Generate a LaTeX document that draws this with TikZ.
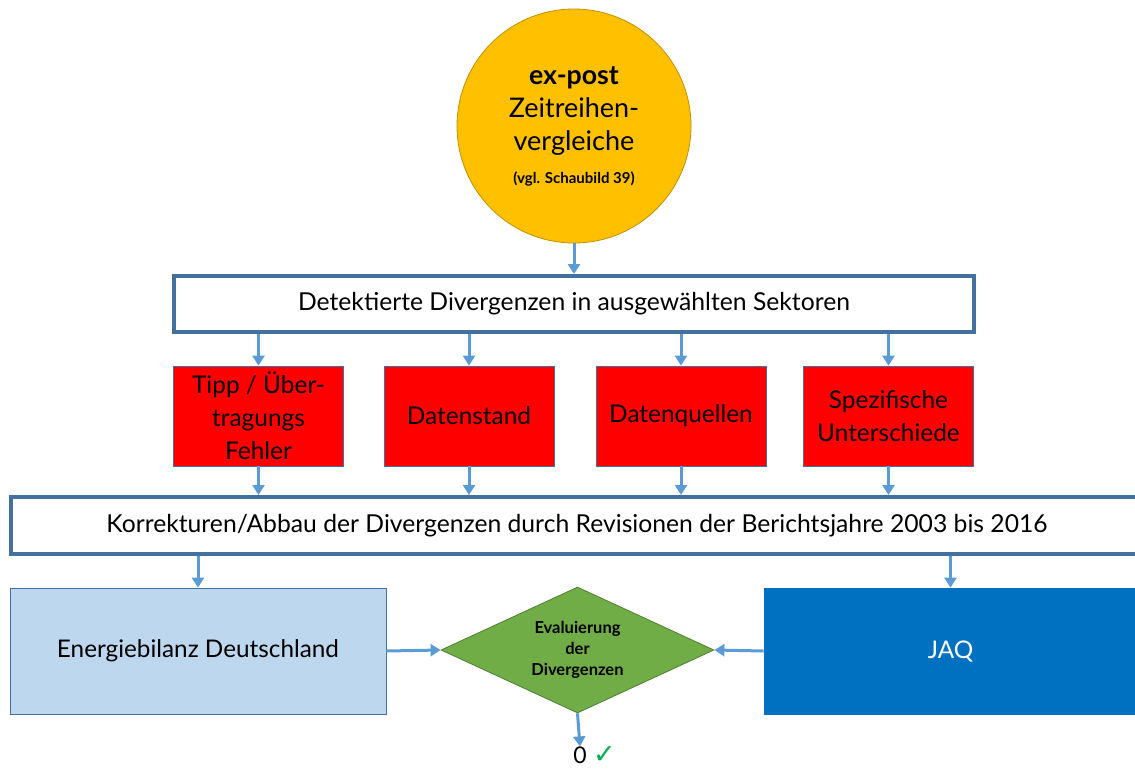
\documentclass[tikz,border=0pt]{standalone}
\usepackage{fontspec}
\setmainfont{Lato}
\newfontfamily\symfont{DejaVu Sans}
\usetikzlibrary{arrows.meta,shapes.geometric}

\definecolor{framecol}{HTML}{41719C}
\definecolor{arrowcol}{HTML}{5B9BD5}
\definecolor{sunfill}{HTML}{FFC000}
\definecolor{sunline}{HTML}{BF9000}
\definecolor{redfill}{HTML}{FF0000}
\definecolor{lightfill}{HTML}{BDD7EE}
\definecolor{darkfill}{HTML}{0070C0}
\definecolor{greenfill}{HTML}{70AD47}
\definecolor{greenline}{HTML}{507E32}
\definecolor{tickcol}{HTML}{00B050}

\tikzset{
  arr/.style={draw=arrowcol, line width=3pt, -{Triangle[width=12pt,length=10pt]}},
  sourcecircle/.style={circle, fill=sunfill, draw=sunline, line width=0.8pt,
    minimum size=234pt, inner sep=0pt, align=center,
    font=\fontsize{27}{33}\selectfont},
  widebox/.style={rectangle, draw=framecol, line width=4pt, fill=white,
    inner sep=0pt, font=\fontsize{24.7}{30}\selectfont},
  causebox/.style={rectangle, draw=framecol, line width=0.8pt, fill=redfill,
    minimum width=170pt, minimum height=100pt, inner sep=0pt, align=center,
    font=\fontsize{24.4}{33}\selectfont},
  sourcebox/.style={rectangle, draw=framecol, line width=0.8pt,
    minimum width=376pt, minimum height=126pt, inner sep=0pt,
    font=\fontsize{24.3}{30}\selectfont},
  decision/.style={diamond, aspect=2.17, fill=greenfill, draw=greenline,
    line width=0.8pt, minimum width=273pt, minimum height=126pt, inner sep=0pt,
    align=center, font=\fontsize{16.5}{21}\selectfont\bfseries}
}

\begin{document}
\begin{tikzpicture}[x=1pt,y=-1pt]
\useasboundingbox (0,0) rectangle (1135,769);
\clip (0,0) rectangle (1135,769);

% source of the comparison
\node[sourcecircle] (src) at (574,126)
  {{\fontsize{26.7}{33}\selectfont\bfseries ex-post}\\Zeitreihen-\\vergleiche\\{\fontsize{15}{18}\selectfont\bfseries (vgl. Schaubild 39)}};

% detected divergences
\node[widebox, minimum width=800pt, minimum height=56pt] (det) at (574,304)
  {Detektierte Divergenzen in ausgewählten Sektoren};

% causes
\node[causebox] (c1) at (258.5,416) {Tipp / Über-\\tragungs\\Fehler};
\node[causebox] (c2) at (469,416) {Datenstand};
\node[causebox] (c3) at (681,416) {Datenquellen};
\node[causebox] (c4) at (888.5,416) {Spezifische\\Unterschiede};

% corrections
\node[widebox, minimum width=1132pt, minimum height=57pt] (kor) at (577,525.5)
  {Korrekturen/Abbau der Divergenzen durch Revisionen der Berichtsjahre 2003 bis 2016};

% data sources and evaluation
\node[sourcebox, fill=lightfill] (eb) at (198,651) {Energiebilanz Deutschland};
\node[sourcebox, fill=darkfill, draw=darkfill, minimum width=373pt, text=white] (jaq) at (950.5,651) {JAQ};
\node[decision] (eval) at (577.5,650) {Evaluierung\\der\\Divergenzen};

% result
\node[inner sep=0pt, font=\fontsize{23}{26}\selectfont] (zero) at (580,755) {0};
\node[inner sep=0pt, anchor=base west, text=tickcol, font=\symfont\bfseries\fontsize{27}{28}\selectfont] (tick) at ([xshift=6pt]zero.base east) {✓};

% connectors
\draw[arr] (src.south) -- (det.north);
\foreach \c in {c1,c2,c3,c4}{
  \draw[arr] (det.south -| \c) -- (\c.north);
  \draw[arr] (\c.south) -- (\c.south |- kor.north);
}
\draw[arr] (kor.south -| eb) -- (eb.north);
\draw[arr] (kor.south -| jaq) -- (jaq.north);
\draw[arr] (eb.east) -- (eval.west);
\draw[arr] (jaq.west) -- (eval.east);
\draw[arr] (eval.south) -- (zero.north);
\end{tikzpicture}
\end{document}
